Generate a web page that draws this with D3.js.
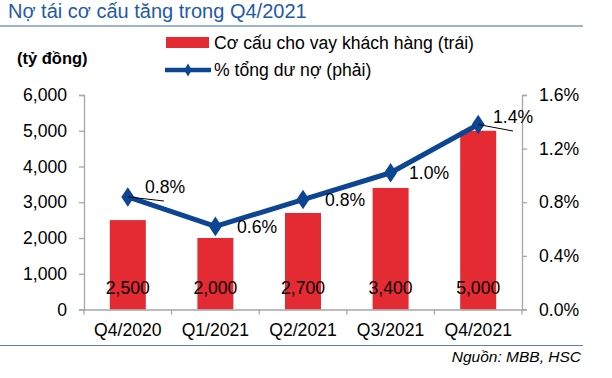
<!DOCTYPE html>
<html><head><meta charset="utf-8">
<script src="https://cdn.jsdelivr.net/npm/d3@7"></script>
<style>body{margin:0;background:#fff}svg{display:block;font-family:"Liberation Sans",Arial,sans-serif}</style>
</head><body>
<svg id="c" width="612" height="378"></svg>
<script>
const categories = ["Q4/2020","Q1/2021","Q2/2021","Q3/2021","Q4/2021"];
const barValues = [2500, 2000, 2700, 3400, 5000];
const lineValues = [0.84, 0.62, 0.82, 1.02, 1.38];
const lineLabels = ["0.8%","0.6%","0.8%","1.0%","1.4%"];
const leftTicks = [0,1000,2000,3000,4000,5000,6000];
const rightTicks = [0,0.4,0.8,1.2,1.6];

const svg = d3.select("#c");
const x = d3.scaleBand().domain(categories).range([84,522]).padding(0);
const yL = d3.scaleLinear().domain([0,6000]).range([309.5,95]);
const yR = d3.scaleLinear().domain([0,1.6]).range([309.5,95]);
const red = "#e42a33", blue = "#0c4592", axisCol = "#a6a6a6", fs = "17.6px";

// title
svg.append("text").attr("x",8).attr("y",18).attr("fill","#1f5aa6").style("font-size","20px").text("Nợ tái cơ cấu tăng trong Q4/2021");
svg.append("line").attr("x1",0).attr("x2",583).attr("y1",26).attr("y2",26).attr("stroke","#3b68a8").attr("stroke-width",1.2);
svg.append("line").attr("x1",0).attr("x2",583).attr("y1",345.5).attr("y2",345.5).attr("stroke","#5b7fb0").attr("stroke-width",1.2);
svg.append("text").attr("x",581).attr("y",362).attr("text-anchor","end").style("font-style","italic").style("font-size","15.5px").text("Nguồn: MBB, HSC");

svg.append("text").attr("x",17).attr("y",64).style("font-size","16.5px").style("font-weight","bold").text("(tỷ đồng)");

// legend
svg.append("rect").attr("x",166).attr("y",37).attr("width",43).attr("height",11).attr("fill",red);
svg.append("text").attr("x",214).attr("y",49).style("font-size",fs).text("Cơ cấu cho vay khách hàng (trái)");
svg.append("line").attr("x1",165).attr("x2",211).attr("y1",70).attr("y2",70).attr("stroke",blue).attr("stroke-width",4.5);
svg.append("path").attr("d",d3.symbol(d3.symbolDiamond,50)).attr("transform","translate(188,70)").attr("fill",blue);
svg.append("text").attr("x",214).attr("y",76).style("font-size",fs).text("% tổng dư nợ (phải)");

// bars
const bw = 36;
svg.selectAll("rect.bar").data(barValues).join("rect").attr("class","bar")
  .attr("x",(d,i)=>x(categories[i])+x.bandwidth()/2-bw/2).attr("width",bw)
  .attr("y",d=>yL(d)).attr("height",d=>yL(0)-yL(d)).attr("fill",red);
svg.selectAll("text.bv").data(barValues).join("text").attr("class","bv")
  .attr("x",(d,i)=>x(categories[i])+x.bandwidth()/2).attr("y",294).attr("text-anchor","middle")
  .style("font-size",fs).text(d=>d3.format(",")(d));

// axes
function styleAxis(g){g.selectAll("path,line").attr("stroke",axisCol).attr("stroke-width",1.3);g.selectAll("text").style("font-size",fs).attr("fill","#000");g.style("font-family","Liberation Sans, Arial, sans-serif");}
svg.append("g").attr("transform","translate(84,0)")
  .call(d3.axisLeft(yL).tickValues(leftTicks).tickFormat(d3.format(",")).tickSizeInner(5).tickSizeOuter(5).tickPadding(12)).call(styleAxis);
svg.append("g").attr("transform","translate(522,0)")
  .call(d3.axisRight(yR).tickValues(rightTicks).tickFormat(d=>d.toFixed(1)+"%").tickSizeInner(5).tickSizeOuter(5).tickPadding(12)).call(styleAxis);
svg.append("g").attr("transform","translate(0,309.5)")
  .call(d3.axisBottom(x).tickSize(0).tickPadding(14)).call(styleAxis);
// boundary tick marks between categories
svg.selectAll("line.xt").data(categories.concat(["end"])).join("line").attr("class","xt")
  .attr("x1",(d,i)=>84+i*x.step()).attr("x2",(d,i)=>84+i*x.step()).attr("y1",309.5).attr("y2",314.5)
  .attr("stroke",axisCol).attr("stroke-width",1.3);

// line
const cx = (d,i)=>x(categories[i])+x.bandwidth()/2;
svg.append("path").datum(lineValues).attr("d",d3.line().x(cx).y(d=>yR(d))).attr("fill","none").attr("stroke",blue).attr("stroke-width",5).attr("stroke-linejoin","round");
svg.selectAll("path.mk").data(lineValues).join("path").attr("class","mk")
  .attr("d",d3.symbol(d3.symbolDiamond,110)).attr("transform",(d,i)=>`translate(${cx(d,i)},${yR(d)}) scale(1.15,1)`).attr("fill",blue);

// leader lines for first and last
svg.append("line").attr("x1",cx(0,0)).attr("y1",yR(lineValues[0])).attr("x2",164).attr("y2",201).attr("stroke","#000").attr("stroke-width",1);
svg.append("line").attr("x1",cx(0,4)).attr("y1",yR(lineValues[4])).attr("x2",513).attr("y2",131).attr("stroke","#000").attr("stroke-width",1);

const labelPos = [[145,193],[237,233],[325,206],[409,179],[493,123]];
svg.selectAll("text.ll").data(lineLabels).join("text").attr("class","ll")
  .attr("x",(d,i)=>labelPos[i][0]).attr("y",(d,i)=>labelPos[i][1]).style("font-size",fs).text(d=>d);
</script>
</body></html>
